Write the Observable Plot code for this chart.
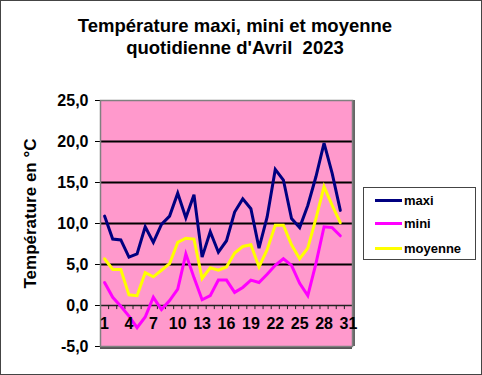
<!DOCTYPE html>
<html>
<head>
<meta charset="utf-8">
<script src="https://cdn.jsdelivr.net/npm/d3@7"></script>
<script src="https://cdn.jsdelivr.net/npm/@observablehq/plot@0.6"></script>
<style>
  html, body { margin: 0; padding: 0; background: white; }
  #chart { position: relative; width: 482px; height: 375px; box-sizing: border-box;
    outline: 1px solid #444; outline-offset: -1px; font-family: "Liberation Sans", Arial, sans-serif; overflow: hidden; }
  #title { height: 82px; box-sizing: border-box; padding-top: 15px; padding-right: 12px;
    text-align: center; font-weight: bold; font-size: 18.5px; line-height: 21.5px; color: #000; }
  #legend { position: absolute; left: 363px; top: 187px; width: 113px; height: 73px; box-sizing: border-box;
    border: 1px solid #444; background: #fff; }
  .row { position: absolute; left: 11px; height: 16px; display: flex; align-items: center; font-weight: bold; font-size: 13px; }
  .sw { width: 27px; height: 3px; margin-right: 2px; }
  #plot svg { display: block; }
</style>
</head>
<body>
<div id="chart">
  <div id="title">Température maxi, mini et moyenne<br>quotidienne d'Avril&nbsp;&nbsp;2023</div>
  <div id="plot"></div>
  <div id="legend"></div>
</div>
<script>
const days = [1,2,3,4,5,6,7,8,9,10,11,12,13,14,15,16,17,18,19,20,21,22,23,24,25,26,27,28,29,30];
const maxi = [10.9,8.1,8.0,5.9,6.3,9.6,7.7,9.9,10.9,13.7,10.7,13.5,5.9,9.0,6.5,7.9,11.4,13.0,11.8,7.0,10.8,16.6,15.3,10.6,9.5,12.2,15.7,19.8,16.1,11.6];
const mini = [2.8,1.0,-0.1,-1.3,-2.7,-1.4,1.0,-0.5,0.6,2.0,6.3,3.4,0.7,1.2,3.1,3.1,1.6,2.2,3.1,2.8,3.8,4.9,5.7,4.9,2.7,1.2,5.1,9.6,9.5,8.5];
const moyenne = [5.7,4.4,4.4,1.3,1.2,4.0,3.5,4.3,5.1,7.7,8.2,8.1,3.3,4.6,4.3,4.7,6.4,7.2,7.4,4.7,6.8,9.8,9.8,7.4,5.7,7.0,10.6,14.5,12.2,10.1];
const xTickLabels = [1,4,7,10,13,16,19,22,25,28,31];
const yTicks = [-5,0,5,10,15,20,25];
const gridValues = [5,10,15,20];
const yTitle = "Température en °C";
const seriesNames = ["maxi","mini","moyenne"];
const seriesColors = ["#000080","#FF00FF","#FFFF00"];

const nCat = 31;
const boundaries = d3.range(0, nCat + 1).map(i => i + 0.5);
const seriesValues = [maxi, mini, moyenne];
const rows = [];
seriesNames.forEach((s, k) => days.forEach((d, i) => rows.push({series: s, day: d, value: seriesValues[k][i]})));

const plot = Plot.plot({
  width: 482,
  height: 293,
  marginTop: 18,
  marginBottom: 29,
  marginLeft: 100,
  marginRight: 130,
  x: {domain: [0.5, nCat + 0.5], axis: null},
  y: {domain: [-5, 25], axis: null},
  color: {domain: seriesNames, range: seriesColors},
  style: {fontFamily: "'Liberation Sans', Arial, sans-serif", background: "transparent", color: "black", overflow: "visible"},
  marks: [
    Plot.frame({fill: "#FF99CC"}),
    Plot.ruleY(gridValues, {stroke: "black", strokeWidth: 2}),
    Plot.ruleY([0], {stroke: "#222", strokeWidth: 1.5}),
    Plot.ruleX(boundaries, {y1: 0, y2: -0.5, stroke: "#222", strokeWidth: 1}),
    Plot.line(rows, {x: "day", y: "value", z: "series", stroke: "series", strokeWidth: 3, strokeLinejoin: "miter", strokeMiterlimit: 4}),
    Plot.axisY({ticks: yTicks, tickFormat: d => d.toFixed(1).replace(".", ","), tickSize: 5, tickPadding: 7, fontSize: 16, fontWeight: "bold", label: null, stroke: "black"}),
    Plot.ruleY([-5], {stroke: "#555", strokeWidth: 2, dy: 1.5}),
    Plot.ruleX([nCat + 0.5], {stroke: "#666", strokeWidth: 2, dx: 1.5}),
    Plot.frame({stroke: "#808080", strokeWidth: 1.5}),
    Plot.text(xTickLabels, {x: d => d, y: () => 0, dy: 18, text: d => String(d), fontSize: 16, fontWeight: "bold", fill: "black"}),
    Plot.text([yTitle], {frameAnchor: "left", textAnchor: "middle", text: d => d, rotate: -90, dx: -70, dy: -10, fontSize: 17, fontWeight: "bold", fill: "black"})
  ]
});
document.getElementById("plot").appendChild(plot);

const legend = document.getElementById("legend");
const rowTops = [4, 27.5, 52.5];
seriesNames.forEach((s, i) => {
  const r = document.createElement("div");
  r.className = "row";
  r.style.top = rowTops[i] + "px";
  const sw = document.createElement("div");
  sw.className = "sw";
  sw.style.background = seriesColors[i];
  const t = document.createElement("span");
  t.textContent = s;
  r.appendChild(sw); r.appendChild(t);
  legend.appendChild(r);
});
</script>
</body>
</html>
